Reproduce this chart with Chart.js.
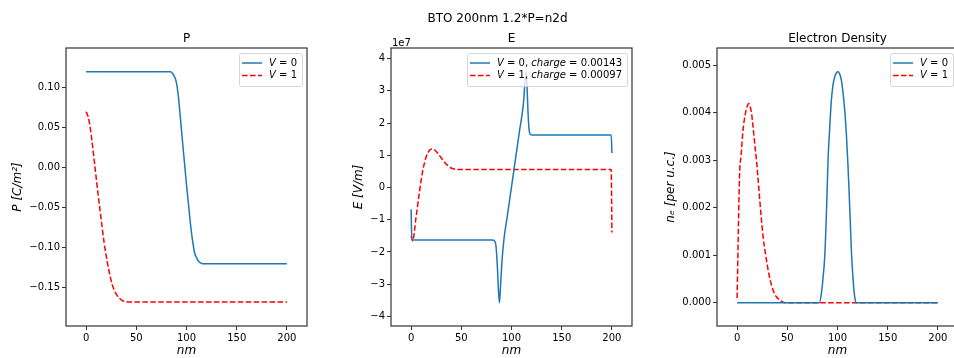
<!DOCTYPE html>
<html>
<head>
<meta charset="utf-8">
<script src="https://cdn.jsdelivr.net/npm/chart.js@4"></script>
<style>
body { margin: 0; width: 954px; height: 358px; overflow: hidden; background: #fff; position: relative; }
canvas { position: absolute; top: 0; }
</style>
</head>
<body>
<canvas id="cP" width="320" height="358" style="left:0px"></canvas>
<canvas id="cE" width="320" height="358" style="left:320px"></canvas>
<canvas id="cN" width="320" height="358" style="left:640px"></canvas>
<script>
// eixo x comum (nm)
const xTicks = [0, 50, 100, 150, 200]

// P [C/m^2]
const xP0 = [0, 84, 86, 88, 90, 92, 94, 96, 98, 100, 102, 104, 106, 108, 110, 112, 114, 116, 118, 200]
const P0 = [0.12, 0.12, 0.118, 0.114, 0.106, 0.088, 0.061, 0.033, 0.006, -0.021, -0.046, -0.071, -0.091, -0.106, -0.1125, -0.117, -0.119, -0.12, -0.12, -0.12]
const xP1 = [0, 2, 4, 6, 8, 10, 12, 14, 16, 18, 20, 22, 24, 26, 28, 30, 33, 36, 40, 45, 200]
const P1 = [0.07, 0.064, 0.051, 0.032, 0.010, -0.012, -0.034, -0.054, -0.075, -0.094, -0.110, -0.124, -0.136, -0.146, -0.153, -0.158, -0.163, -0.166, -0.1675, -0.168, -0.168]
const pTicks = [-0.15, -0.10, -0.05, 0, 0.05, 0.10]

// E [V/m]
const xE0 = [0, 0.8, 3, 81, 83, 84.5, 86, 87, 88, 89, 90.5, 92.4, 96, 100, 104, 108, 110, 112, 113, 114.5, 115.5, 116.5, 117.5, 118.5, 120, 199.3, 200]
const E0 = [-0.68e7, -1.63e7, -1.63e7, -1.63e7, -1.66e7, -1.8e7, -2.5e7, -3.2e7, -3.58e7, -3.1e7, -2.3e7, -1.63e7, -0.85e7, 0.02e7, 0.89e7, 1.76e7, 2.15e7, 2.65e7, 3.1e7, 3.58e7, 3.1e7, 2.3e7, 1.8e7, 1.66e7, 1.63e7, 1.63e7, 1.07e7]
const xE1 = [0, 1.5, 5, 8.4, 11.7, 13.5, 15.1, 17, 18.5, 20, 21.8, 24, 26.8, 29, 31.9, 34, 36.9, 39, 42, 45, 48.7, 199.3, 200]
const E1 = [-1.5e7, -1.66e7, -0.91e7, -0.12e7, 0.54e7, 0.78e7, 0.96e7, 1.09e7, 1.16e7, 1.19e7, 1.2e7, 1.15e7, 1.06e7, 0.96e7, 0.85e7, 0.76e7, 0.67e7, 0.62e7, 0.58e7, 0.565e7, 0.56e7, 0.56e7, -1.4e7]
const eTicks = [-4e7, -3e7, -2e7, -1e7, 0, 1e7, 2e7, 3e7, 4e7]

// densidade de eletrons [per u.c.]
const xN0 = [0, 82, 84, 85.5, 87.3, 89, 90.6, 92.3, 93.9, 95.5, 97.2, 99, 100.5, 102, 103.9, 105.5, 107.2, 108.9, 110.5, 112.2, 113.8, 115.5, 117.1, 119, 200]
const N0 = [0, 0, 0.0002, 0.0005, 0.00097, 0.0019, 0.003, 0.0037, 0.00426, 0.00458, 0.00475, 0.00484, 0.00486, 0.00482, 0.00468, 0.00442, 0.00405, 0.00352, 0.00286, 0.002, 0.00111, 0.0005, 0.00013, 0, 0]
const xN1 = [0, 2.5, 4, 6, 8, 9.3, 10.5, 11.6, 13, 14.5, 15.9, 17.5, 19.3, 21, 22.6, 24.2, 25.9, 28.4, 30.9, 33.3, 35.8, 39, 42.5, 47.5, 200]
const N1 = [0.0001, 0.0027, 0.0031, 0.00365, 0.00395, 0.00408, 0.00416, 0.00419, 0.00413, 0.00397, 0.0037, 0.00336, 0.003, 0.00258, 0.00216, 0.00176, 0.00139, 0.00101, 0.00069, 0.00045, 0.00027, 0.00013, 0.00006, 0, 0]
const nTicks = [0, 0.001, 0.002, 0.003, 0.004, 0.005]

const azul = '#1f77b4'
const vermelho = '#ff0000'
const fonte = "'DejaVu Sans'"

Chart.defaults.font.family = fonte
Chart.defaults.color = '#000'

const menos = s => String(s).replace('-', '\u2212')

// texto estilo mathtext: letras em italico
function escreverMath(ctx, txt, x, y, desenhar) {
    let pedacos = txt.split(/([A-Za-z]+)/)
    let w = 0
    for (let p of pedacos) {
        if (p === '') continue
        ctx.font = (/^[A-Za-z]+$/.test(p) ? 'italic ' : '') + '10px ' + fonte
        if (desenhar) ctx.fillText(p, x + w, y)
        w += ctx.measureText(p).width
    }
    return w
}

const moldura = {
    id: 'moldura',
    afterDraw(chart, args, opts) {
        const ctx = chart.ctx, a = chart.chartArea
        ctx.save()
        // caixa dos eixos
        ctx.strokeStyle = '#333'
        ctx.lineWidth = 1.2
        ctx.strokeRect(a.left, a.top, a.right - a.left, a.bottom - a.top)
        // titulo
        ctx.fillStyle = '#000'
        ctx.font = '12px ' + fonte
        ctx.textAlign = 'center'
        ctx.textBaseline = 'alphabetic'
        ctx.fillText(opts.titulo, (a.left + a.right) / 2, a.top - 6)
        if (opts.sup) ctx.fillText(opts.sup.texto, opts.sup.x, opts.sup.y)
        if (opts.offset) {
            ctx.font = '10px ' + fonte
            ctx.textAlign = 'left'
            ctx.fillText(opts.offset, a.left + 1, a.top - 2)
        }
        // legenda
        const itens = chart.data.datasets
        ctx.textAlign = 'left'
        ctx.textBaseline = 'middle'
        let larg = Math.max(...itens.map(d => escreverMath(ctx, d.label, 0, 0, false)))
        let w = larg + 35, h = 33
        let x0 = a.right - 5 - w, y0 = a.top + 5
        ctx.beginPath()
        ctx.roundRect(x0 + 0.5, y0 + 0.5, w, h, 2)
        ctx.fillStyle = 'rgba(255,255,255,0.8)'
        ctx.fill()
        ctx.strokeStyle = 'rgba(204,204,204,0.8)'
        ctx.lineWidth = 1
        ctx.stroke()
        itens.forEach((d, i) => {
            let y = y0 + 10 + i * 12.5
            ctx.beginPath()
            ctx.strokeStyle = d.borderColor
            ctx.lineWidth = d.borderWidth
            ctx.setLineDash(d.borderDash || [])
            ctx.moveTo(x0 + 3, y)
            ctx.lineTo(x0 + 23, y)
            ctx.stroke()
            ctx.setLineDash([])
            ctx.fillStyle = '#000'
            escreverMath(ctx, d.label, x0 + 30, y, true)
        })
        ctx.restore()
    }
}

function serie(label, xs, ys, cor, tracejado) {
    return {
        label: label,
        data: xs.map((x, i) => ({x: x, y: ys[i]})),
        borderColor: cor,
        borderWidth: 1.5,
        borderDash: tracejado ? [5.55, 2.4] : [],
        pointRadius: 0,
        fill: false,
        tension: 0,
        cubicInterpolationMode: 'monotone'
    }
}

function grafico(id, datasets, cfg) {
    const canvas = document.getElementById(id)
    return new Chart(canvas, {
        type: 'line',
        data: { datasets: datasets },
        options: {
            responsive: false,
            animation: false,
            devicePixelRatio: 1,
            layout: { padding: { top: 48, left: 0, right: cfg.direita, bottom: 0 } },
            plugins: {
                legend: { display: false },
                tooltip: { enabled: false },
                moldura: cfg.moldura
            },
            scales: {
                x: {
                    type: 'linear', min: -20, max: 220,
                    afterBuildTicks: s => { s.ticks = xTicks.map(v => ({value: v})) },
                    afterFit: s => { s.height = 32 },
                    grid: { drawOnChartArea: false, drawTicks: true, tickLength: 4, color: '#000', lineWidth: 0.8 },
                    border: { display: false },
                    ticks: { padding: 2, autoSkip: false, maxRotation: 0, font: { size: 10 }, callback: v => menos(v) },
                    title: { display: true, text: 'nm', font: { size: 12, style: 'italic', lineHeight: 1.2 }, padding: { top: 0, bottom: 0 } }
                },
                y: {
                    type: 'linear', min: cfg.yMin, max: cfg.yMax,
                    afterBuildTicks: s => { s.ticks = cfg.yTicks.map(v => ({value: v})) },
                    afterFit: s => { s.width = cfg.esquerda },
                    grid: { drawOnChartArea: false, drawTicks: true, tickLength: 4, color: '#000', lineWidth: 0.8 },
                    border: { display: false },
                    ticks: { padding: 2, autoSkip: false, font: { size: 10 }, callback: cfg.fmt },
                    title: { display: true, text: cfg.yTitulo, font: { size: 12, style: 'italic', lineHeight: 1.2 }, padding: { top: cfg.yPad, bottom: 0 } }
                }
            }
        },
        plugins: [moldura]
    })
}

grafico('cP', [
    serie('V = 0', xP0, P0, azul, false),
    serie('V = 1', xP1, P1, vermelho, true)
], {
    yMin: -0.1979, yMax: 0.1496, yTicks: pTicks,
    fmt: v => menos(v.toFixed(2)),
    esquerda: 66, direita: 13, yTitulo: 'P [C/m\u00b2]', yPad: 11,
    moldura: { titulo: 'P' }
})

grafico('cE', [
    serie('V = 0, charge = 0.00143', xE0, E0, azul, false),
    serie('V = 1, charge = 0.00097', xE1, E1, vermelho, true)
], {
    yMin: -4.30e7, yMax: 4.33e7, yTicks: eTicks,
    fmt: v => menos(Math.round(v / 1e7)),
    esquerda: 71, direita: 8, yTitulo: 'E [V/m]', yPad: 32,
    moldura: { titulo: 'E', offset: '1e7', sup: { texto: 'BTO 200nm 1.2*P=n2d', x: 177.5, y: 21.5 } }
})

grafico('cN', [
    serie('V = 0', xN0, N0, azul, false),
    serie('V = 1', xN1, N1, vermelho, true)
], {
    yMin: -0.00049, yMax: 0.00536, yTicks: nTicks,
    fmt: v => menos(v.toFixed(3)),
    esquerda: 77, direita: 2, yTitulo: 'n\u2091 [per u.c.]', yPad: 24,
    moldura: { titulo: 'Electron Density' }
})
</script>
</body>
</html>
